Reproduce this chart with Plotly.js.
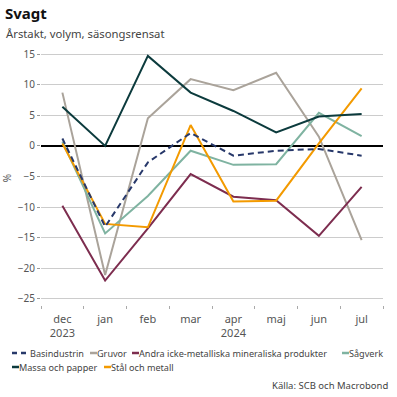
<!DOCTYPE html>
<html><head><meta charset="utf-8">
<script src="https://cdn.plot.ly/plotly-3.0.1.min.js"></script>
<style>html,body{margin:0;padding:0;background:#fff}#c{width:397px;height:397px}</style>
</head><body><div id="c"></div>
<script>
const months = ["dec","jan","feb","mar","apr","maj","jun","jul"];
const tickLabels = ["dec<br>2023","jan","feb","mar","apr<br>2024","maj","jun","jul"];
const basindustrin = [1.2,-13.2,-2.7,2.1,-1.6,-0.8,-0.5,-1.6];
const gruvor = [8.7,-21.1,4.5,10.9,9.1,11.95,1.5,-15.4];
const andra = [-9.8,-22.0,-13.5,-4.6,-8.3,-8.9,-14.7,-6.7];
const sagverk = [0.7,-14.3,-8.2,-0.8,-3.1,-3.0,5.4,1.6];
const massa = [6.4,0.0,14.7,8.7,5.7,2.2,4.8,5.2];
const stal = [0.4,-12.75,-13.3,3.4,-9.1,-8.95,0.4,9.4];
const seriesNames = ["Basindustrin","Gruvor","Andra icke-metalliska mineraliska produkter","Sågverk","Massa och papper","Stål och metall"];
const yTicks = [-25,-20,-15,-10,-5,0,5,10,15];

const colors = {b:"#27386a",g:"#aaa39a",a:"#7d2d4f",s:"#7fb3a1",m:"#0c3b3d",st:"#f39a00"};
const FONT = "Noto Sans, DejaVu Sans, sans-serif";

function tr(y,name,color,dash){
  return {x:months,y:y,name:name,type:"scatter",mode:"lines",
    line:{color:color,width:2,dash:dash||"solid"},showlegend:false,hoverinfo:"skip"};
}
const traces = [
  tr(gruvor,seriesNames[1],colors.g),
  tr(andra,seriesNames[2],colors.a),
  tr(sagverk,seriesNames[3],colors.s),
  tr(stal,seriesNames[5],colors.st),
  tr(massa,seriesNames[4],colors.m),
  tr(basindustrin,seriesNames[0],colors.b,"6px,4px")
];

// pixel helpers for layout placement
const L=41,R=383,T=51,B=305;
const px=X=>(X-L)/(R-L), py=Y=>(B-Y)/(B-T);

const legendItems=[
  {n:0,c:colors.b,x0:12,x1:30,tx:29,row:353,dash:true},
  {n:1,c:colors.g,x0:90,x1:97,tx:96,row:353},
  {n:2,c:colors.a,x0:132,x1:139,tx:138,row:353},
  {n:3,c:colors.s,x0:342,x1:349,tx:348,row:353},
  {n:4,c:colors.m,x0:12,x1:19,tx:18,row:367},
  {n:5,c:colors.st,x0:104,x1:111,tx:110,row:367}
];
const shapes=[], annotations=[];
legendItems.forEach(it=>{
  shapes.push({type:"line",xref:"paper",yref:"paper",x0:px(it.x0),x1:px(it.x1),y0:py(it.row),y1:py(it.row),
    line:{color:it.c,width:2.5,dash:it.dash?"5px,4px":"solid"}});
  annotations.push({xref:"paper",yref:"paper",x:px(it.tx),y:py(it.row),xanchor:"left",yanchor:"middle",
    text:seriesNames[it.n],showarrow:false,borderpad:0,font:{family:FONT,size:9.1,color:"#444"}});
});
annotations.push({xref:"paper",yref:"paper",x:px(4),y:py(34),xanchor:"left",yanchor:"middle",
  text:"Årstakt, volym, säsongsrensat",showarrow:false,font:{family:FONT,size:11.3,color:"#444"}});
annotations.push({xref:"paper",yref:"paper",x:px(390),y:py(386),xanchor:"right",yanchor:"middle",
  text:"Källa: SCB och Macrobond",showarrow:false,font:{family:FONT,size:9.5,color:"#444"}});

const layout={
  width:397,height:397,paper_bgcolor:"#fff",plot_bgcolor:"#fff",
  margin:{l:L,r:397-R,t:T,b:397-B,pad:0},
  title:{text:"<b>Svagt</b>",x:5/397,xanchor:"left",xref:"container",y:1-14/397,yanchor:"middle",yref:"container",
    font:{family:FONT,size:15,color:"#111"}},
  xaxis:{type:"category",range:[-0.5,7.5],tickvals:months,ticktext:tickLabels,tickson:"boundaries",
    ticks:"outside",ticklen:3,tickcolor:"#aaa",showgrid:false,zeroline:false,showline:false,
    ticklabelstandoff:6,
    tickfont:{family:FONT,size:11,color:"#555"}},
  yaxis:{range:[-26,15.5],tickvals:yTicks,ticks:"outside",ticklen:3,tickcolor:"#999",
    gridcolor:"#cccccc",gridwidth:1,zeroline:true,zerolinecolor:"#000",zerolinewidth:1.5,
    tickfont:{family:FONT,size:10,color:"#555"},
    title:{text:"%",font:{family:FONT,size:10,color:"#555"},standoff:8}},
  shapes:shapes,annotations:annotations,showlegend:false
};
Plotly.newPlot("c",traces,layout,{displayModeBar:false,staticPlot:true});
</script></body></html>
